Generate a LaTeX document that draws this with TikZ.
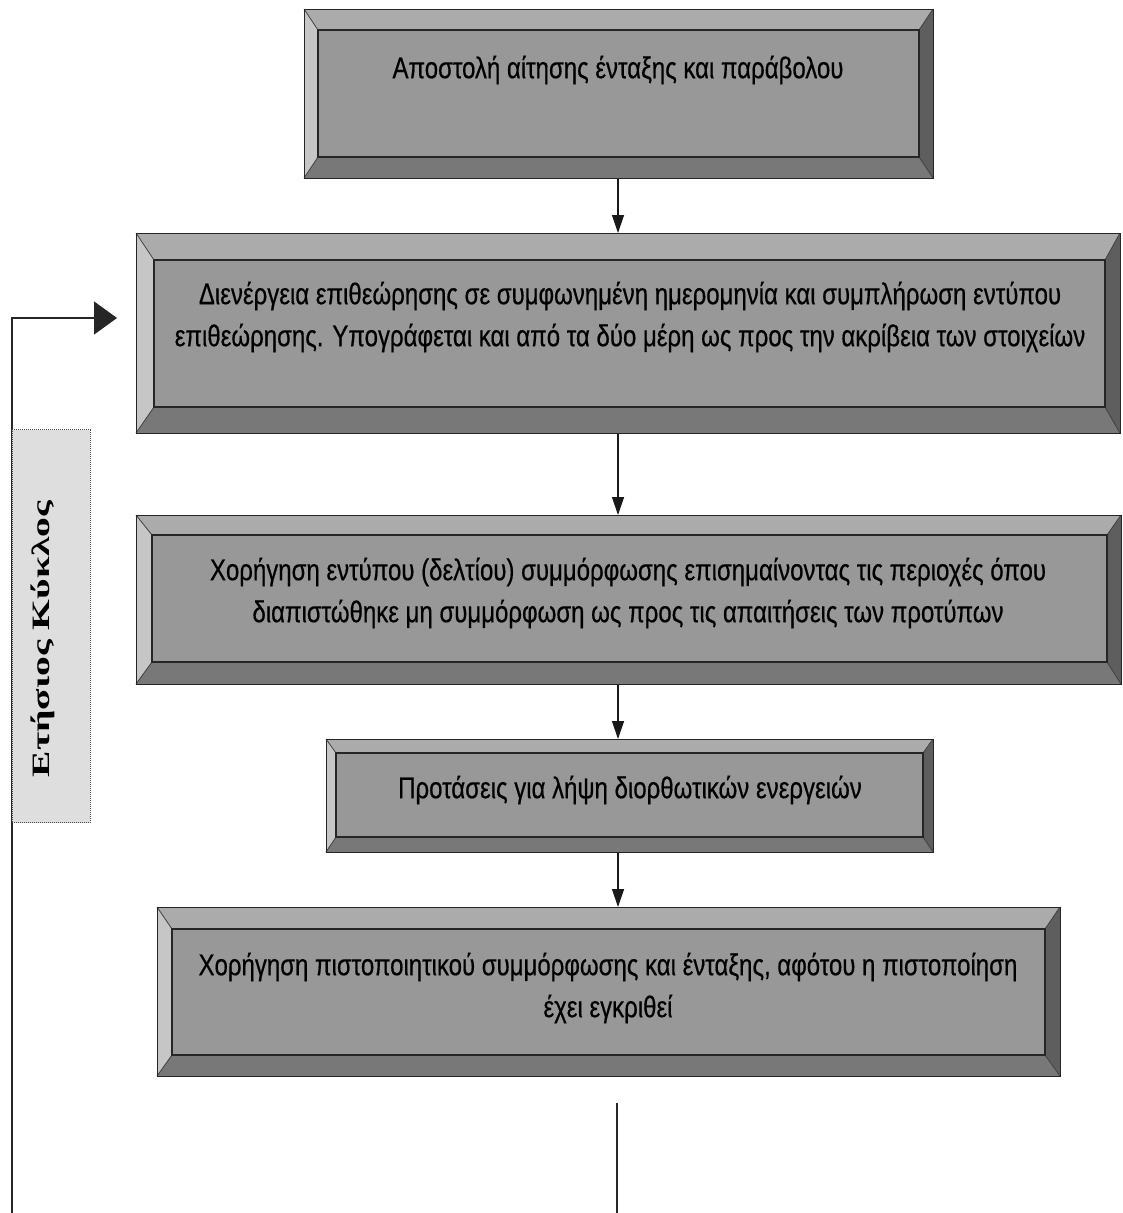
\documentclass[tikz,border=0pt]{standalone}
\usepackage{fontspec}
\setmainfont{Liberation Sans}
\newfontfamily\boxfont[FakeStretch=0.8,FakeBold=0.5]{Liberation Sans}
\newfontfamily\labfont[FakeStretch=1.58]{Liberation Serif}
\usetikzlibrary{arrows.meta,calc}
\definecolor{bface}{HTML}{989898}
\definecolor{btop}{HTML}{ABABAB}
\definecolor{bleft}{HTML}{C6C6C6}
\definecolor{bbot}{HTML}{787878}
\definecolor{bright}{HTML}{5E5E5E}
\definecolor{labfill}{HTML}{DEDEDE}
\tikzset{
  bevouter/.style={draw=black!85, line width=1.3pt, inner sep=0pt},
  bevinner/.style={draw=black!85, line width=1.6pt},
  bevdiag/.style={draw=black!75, line width=0.8pt},
  boxtext/.style={font=\boxfont\fontsize{30}{42}\selectfont, align=center, inner sep=0pt},
  flow/.style={draw=black!90, line width=1.3pt, -{Triangle[width=12pt,length=18pt]}},
  loopline/.style={draw=black!85, line width=1.3pt, -{Triangle[width=33pt,length=23pt]}},
  plainline/.style={draw=black!85, line width=1.3pt},
  labbox/.style={fill=labfill, draw=black!70, densely dotted, line width=1pt, inner sep=0pt},
  labtext/.style={font=\labfont\bfseries\fontsize{25}{30}\selectfont, rotate=90, inner sep=0pt}
}
\newcommand\bevbox[9]{%
  \fill[bface] (#6,#7) rectangle (#8,#9);
  \fill[btop] (#2,#3) -- (#4,#3) -- (#8,#7) -- (#6,#7) -- cycle;
  \fill[bleft] (#2,#3) -- (#6,#7) -- (#6,#9) -- (#2,#5) -- cycle;
  \fill[bbot] (#2,#5) -- (#6,#9) -- (#8,#9) -- (#4,#5) -- cycle;
  \fill[bright] (#4,#3) -- (#4,#5) -- (#8,#9) -- (#8,#7) -- cycle;
  \draw[bevdiag] (#2,#3) -- (#6,#7) (#4,#3) -- (#8,#7) (#2,#5) -- (#6,#9) (#4,#5) -- (#8,#9);
  \draw[bevinner] (#6,#7) rectangle (#8,#9);
  \node[bevouter, anchor=north west, minimum width={(#4-#2)*1pt}, minimum height={(#5-#3)*1pt}] (#1) at (#2,#3) {};
}
\begin{document}
\begin{tikzpicture}[x=1pt,y=-1pt]
\useasboundingbox[fill=white] (0,0) rectangle (1123,1213);

\bevbox{b1}{304}{9}{933}{178}{318}{30}{919}{157}
\bevbox{b2}{136}{233}{1120}{433}{154}{260}{1105}{407}
\bevbox{b3}{136}{515}{1121}{684}{152}{535}{1107}{662}
\bevbox{b4}{326}{739}{933}{852}{336}{753}{923}{837}
\bevbox{b5}{157}{907}{1060}{1076}{172}{929}{1045}{1055}

\node[boxtext] (t1) at (618,70) {Αποστολή αίτησης ένταξης και παράβολου};
\node[boxtext] (t2) at (630,317) {Διενέργεια επιθεώρησης σε συμφωνημένη ημερομηνία και συμπλήρωση εντύπου\\επιθεώρησης. Υπογράφεται και από τα δύο μέρη ως προς την ακρίβεια των στοιχείων};
\node[boxtext] (t3) at (628,593) {Χορήγηση εντύπου (δελτίου) συμμόρφωσης επισημαίνοντας τις περιοχές όπου\\διαπιστώθηκε μη συμμόρφωση ως προς τις απαιτήσεις των προτύπων};
\node[boxtext] (t4) at (630,790) {Προτάσεις για λήψη διορθωτικών ενεργειών};
\node[boxtext] (t5) at (608,988) {Χορήγηση πιστοποιητικού συμμόρφωσης και ένταξης, αφότου η πιστοποίηση\\έχει εγκριθεί};

\coordinate (ax) at (618,0);
\draw[flow] (b1.south -| ax) -- (b2.north -| ax);
\draw[flow] (b2.south -| ax) -- (b3.north -| ax);
\draw[flow] (b3.south -| ax) -- (b4.north -| ax);
\draw[flow] (b4.south -| ax) -- (b5.north -| ax);

\coordinate (stubtop) at (617,1103);
\coordinate (stubbot) at (617,1215);
\draw[plainline] (stubtop) -- (stubbot);

\coordinate (loopbot) at (12,1215);
\coordinate (looptip) at (117,318);
\draw[loopline] (loopbot) |- (looptip);

\node[labbox, minimum width=78pt, minimum height=393pt] (lab) at (51,626) {};
\node[labtext] (labt) at (43,639) {Ετήσιος Κύκλος};
\end{tikzpicture}
\end{document}
